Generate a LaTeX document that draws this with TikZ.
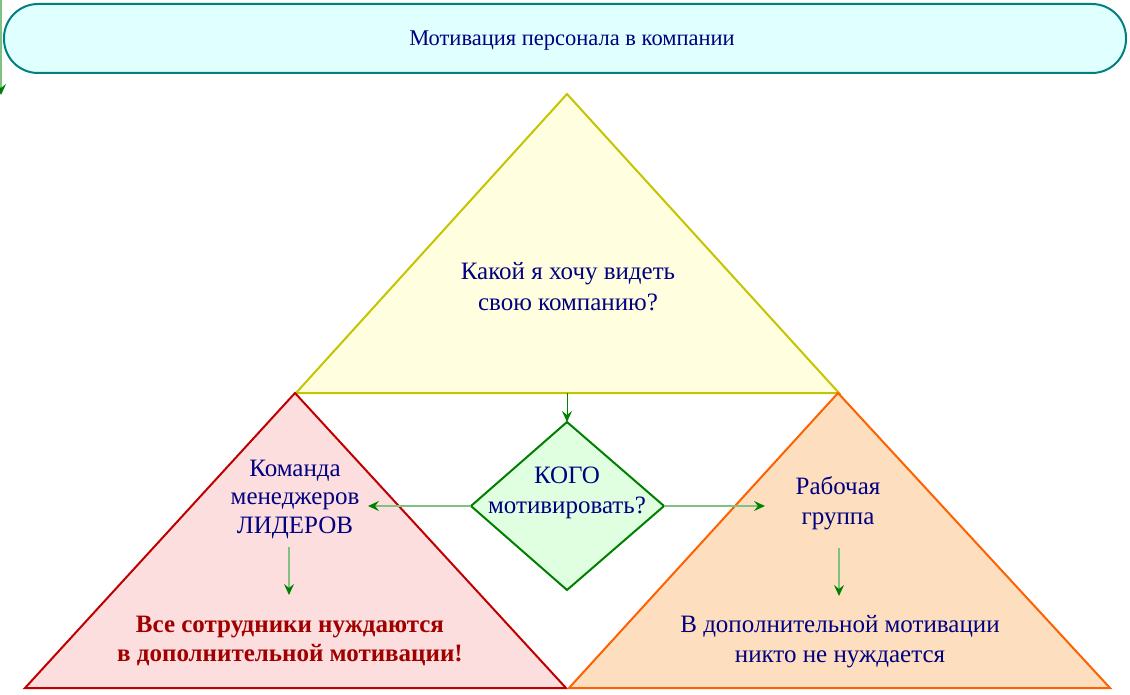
\documentclass[tikz,border=0pt]{standalone}
\usepackage{fontspec}
\setmainfont{Liberation Serif}
\usetikzlibrary{shapes.geometric,arrows.meta}
\definecolor{titlefill}{HTML}{E0FFFF}
\definecolor{titledraw}{HTML}{008080}
\definecolor{yelfill}{HTML}{FFFFE0}
\definecolor{yeldraw}{HTML}{C4C400}
\definecolor{redfill}{HTML}{FDDEDE}
\definecolor{reddraw}{HTML}{C00000}
\definecolor{orfill}{HTML}{FDDFBF}
\definecolor{ordraw}{HTML}{FF6000}
\definecolor{dfill}{HTML}{E0FFE0}
\definecolor{ddraw}{HTML}{008000}
\definecolor{navy}{HTML}{000080}
\definecolor{darkred}{HTML}{A00000}
\definecolor{shaft}{HTML}{80C080}
\tikzset{
  txt/.style={text=navy, align=center, inner sep=0pt, font=\fontsize{25}{30}\selectfont},
  conn/.style={draw=shaft, line width=1.4pt, -{Stealth[length=11pt,width=10pt,inset=4pt,color=ddraw]}},
  tri/.style={line width=2pt, line join=miter},
}
\begin{document}
\begin{tikzpicture}[x=1pt,y=-1pt]
\useasboundingbox (0,0) rectangle (1130,695);
% title
\node[draw=titledraw, fill=titlefill, line width=2pt, rectangle, rounded corners=34pt, minimum width=1122pt, minimum height=69pt, inner sep=0pt] (title) at (565,38.5) {};
\node[txt, font=\fontsize{22.5}{26}\selectfont] (titletext) at (572,41) {Мотивация персонала в компании};
% left edge connector
\coordinate (ls) at (1,0);
\coordinate (le) at (1,95);
\draw[conn] (ls) -- (le);
% triangles
\draw[tri, draw=yeldraw, fill=yelfill] (567,94) -- (839,393) -- (296,393) -- cycle;
\draw[tri, draw=reddraw, fill=redfill] (295,393) -- (566,688) -- (25,688) -- cycle;
\draw[tri, draw=ordraw, fill=orfill] (838,393) -- (1110,688) -- (569,688) -- cycle;
\coordinate (ybase) at (567,393);
% diamond
\draw[draw=ddraw, fill=dfill, line width=2pt] (567,422) -- (664,506) -- (567,590) -- (471,506) -- cycle;
\coordinate (dn) at (567,422);
\coordinate (dw) at (471,506);
\coordinate (de) at (664,506);
\node[txt] (kogo) at (567,493) {КОГО\\мотивировать?};
% texts
\node[txt, font=\fontsize{25}{31}\selectfont] (q) at (568,287) {Какой я хочу видеть\\свою компанию?};
\node[txt, font=\fontsize{25}{28.5}\selectfont] (mgr) at (295,499) {Команда\\менеджеров\\ЛИДЕРОВ};
\node[txt, text=darkred, font=\bfseries\fontsize{25}{29}\selectfont] (all) at (290,641) {Все сотрудники нуждаются\\в дополнительной мотивации!};
\node[txt] (grp) at (838,503) {Рабочая\\группа};
\node[txt] (none) at (840,642) {В дополнительной мотивации\\никто не нуждается};
% connectors
\coordinate (la) at (368,506);
\coordinate (ra) at (765,506);
\coordinate (ls1) at (289,547);
\coordinate (le1) at (289,595);
\coordinate (rs1) at (839,548);
\coordinate (re1) at (839,596);
\draw[conn, line width=1pt, draw=ddraw] (ybase) -- (dn);
\draw[conn] (dw) -- (la);
\draw[conn] (de) -- (ra);
\draw[conn] (ls1) -- (le1);
\draw[conn] (rs1) -- (re1);
\end{tikzpicture}
\end{document}
